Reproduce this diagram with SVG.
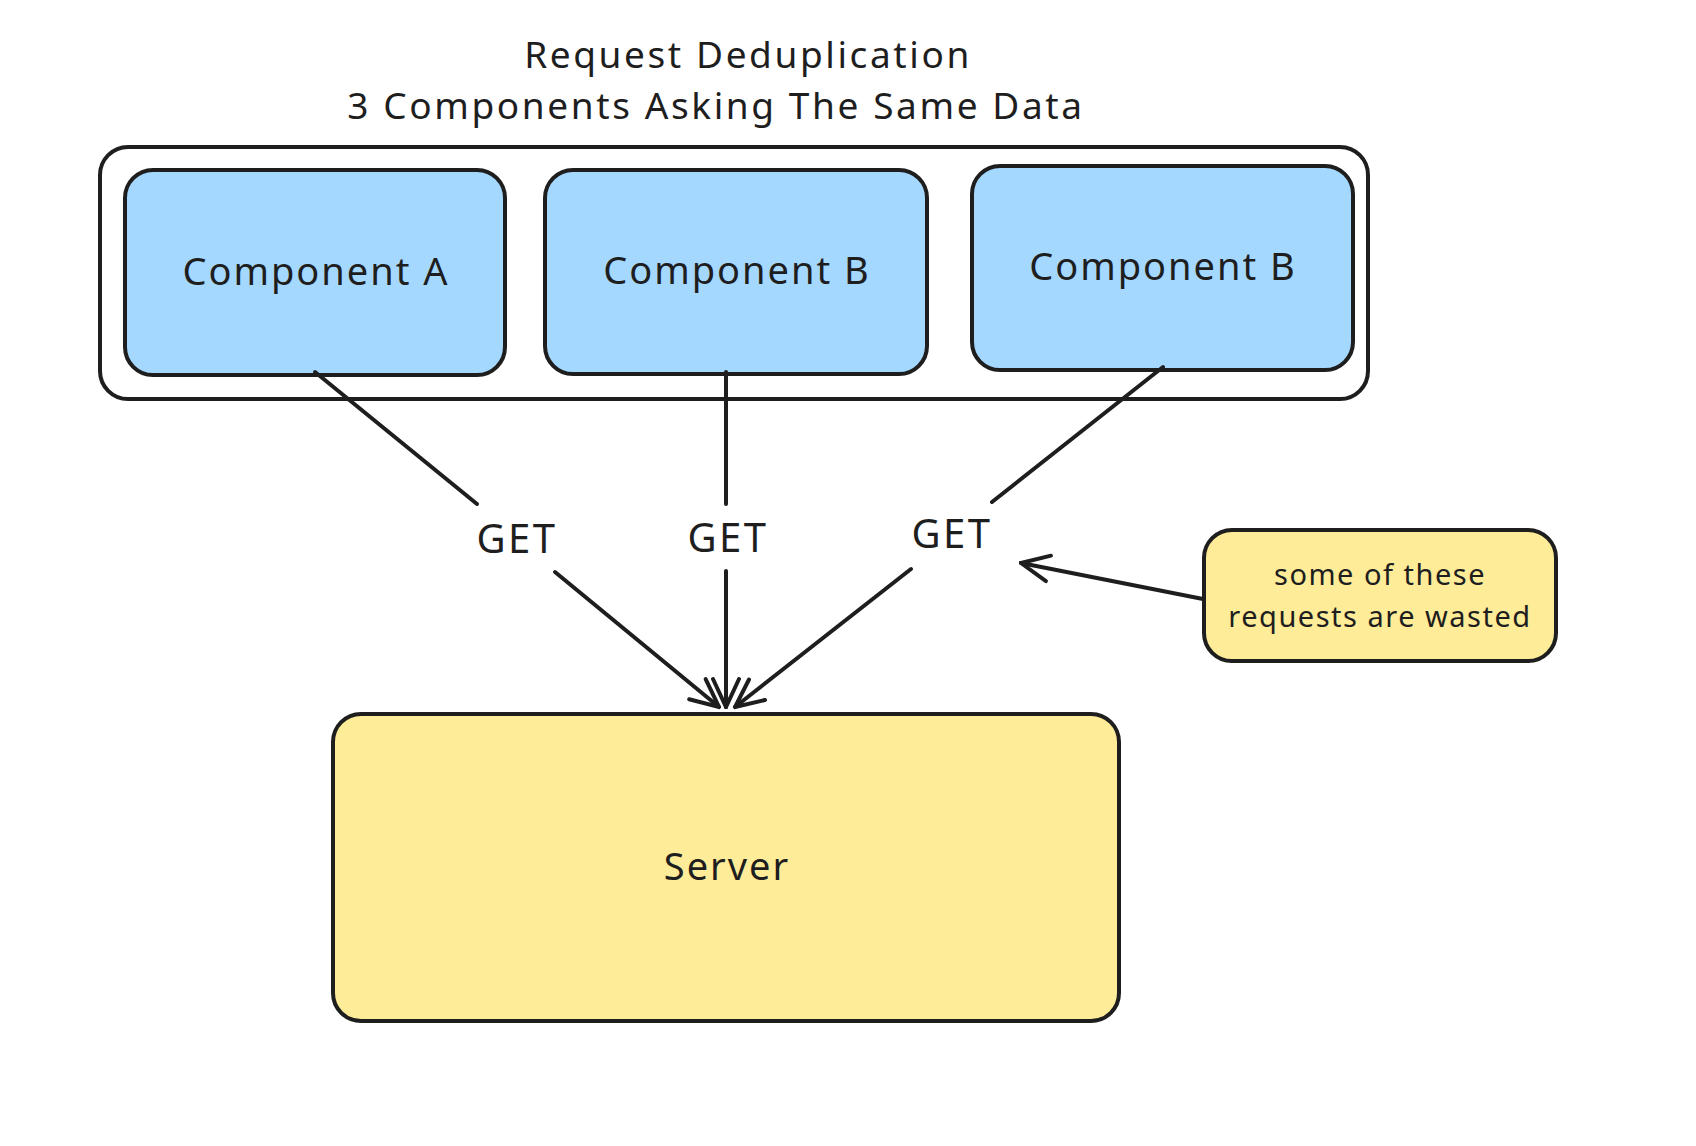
<svg xmlns="http://www.w3.org/2000/svg" width="1696" height="1146" viewBox="0 0 1696 1146">
<style>
text{font-family:"Noto Sans","Liberation Sans",sans-serif;fill:#1e1e1e;text-anchor:middle}
.box{stroke:#1e1e1e;stroke-width:4}
.c{stroke:#1e1e1e;stroke-width:4;fill:none;stroke-linecap:round}
.t{font-size:38px;letter-spacing:2px}
.g{font-size:40px;letter-spacing:2.5px}
.ti{font-size:37px;letter-spacing:2.6px}
.n{font-size:29px;letter-spacing:1.5px}
</style>
<defs>
<marker id="ah2" viewBox="0 0 34 34" refX="32" refY="17" markerWidth="34" markerHeight="34" markerUnits="userSpaceOnUse" orient="auto">
<path d="M4 4 L32 17 L4 30" fill="none" stroke="#1e1e1e" stroke-width="4" stroke-linecap="round"/>
</marker>
</defs>
<rect width="1696" height="1146" fill="#fff"/>
<g id="title">
<text class="ti" x="748" y="68">Request Deduplication</text>
<text class="ti" x="716" y="119">3 Components Asking The Same Data</text>
</g>
<g id="container"><rect class="box" x="100" y="147" width="1268" height="252" rx="28" fill="none"/></g>
<g id="compA"><rect class="box" x="125" y="170" width="380" height="205" rx="28" fill="#a5d8ff"/><text class="t" x="316" y="285">Component A</text></g>
<g id="compB"><rect class="box" x="545" y="170" width="382" height="204" rx="28" fill="#a5d8ff"/><text class="t" x="737" y="284">Component B</text></g>
<g id="compB2"><rect class="box" x="972" y="166" width="381" height="204" rx="28" fill="#a5d8ff"/><text class="t" x="1163" y="280">Component B</text></g>
<g id="server"><rect class="box" x="333" y="714" width="786" height="307" rx="28" fill="#ffec99"/><text class="t" x="727" y="880">Server</text></g>
<g id="note"><rect class="box" x="1204" y="530" width="352" height="131" rx="28" fill="#ffec99"/>
<text class="n" x="1380" y="585">some of these</text>
<text class="n" x="1380" y="627">requests are wasted</text></g>
<g id="connectors">
<path class="c" d="M315 372 L477 504"/><path class="c" d="M555 572 L719 707" marker-end="url(#ah2)"/>
<path class="c" d="M726 372 L726 504"/><path class="c" d="M726 571 L726 707" marker-end="url(#ah2)"/>
<path class="c" d="M1163 367 L992 502"/><path class="c" d="M911 569 L735 707" marker-end="url(#ah2)"/>
<path class="c" d="M1203 599 L1021 563" marker-end="url(#ah2)"/>
<text class="g" x="517" y="553">GET</text>
<text class="g" x="728" y="552">GET</text>
<text class="g" x="952" y="548">GET</text>
</g>
</svg>
